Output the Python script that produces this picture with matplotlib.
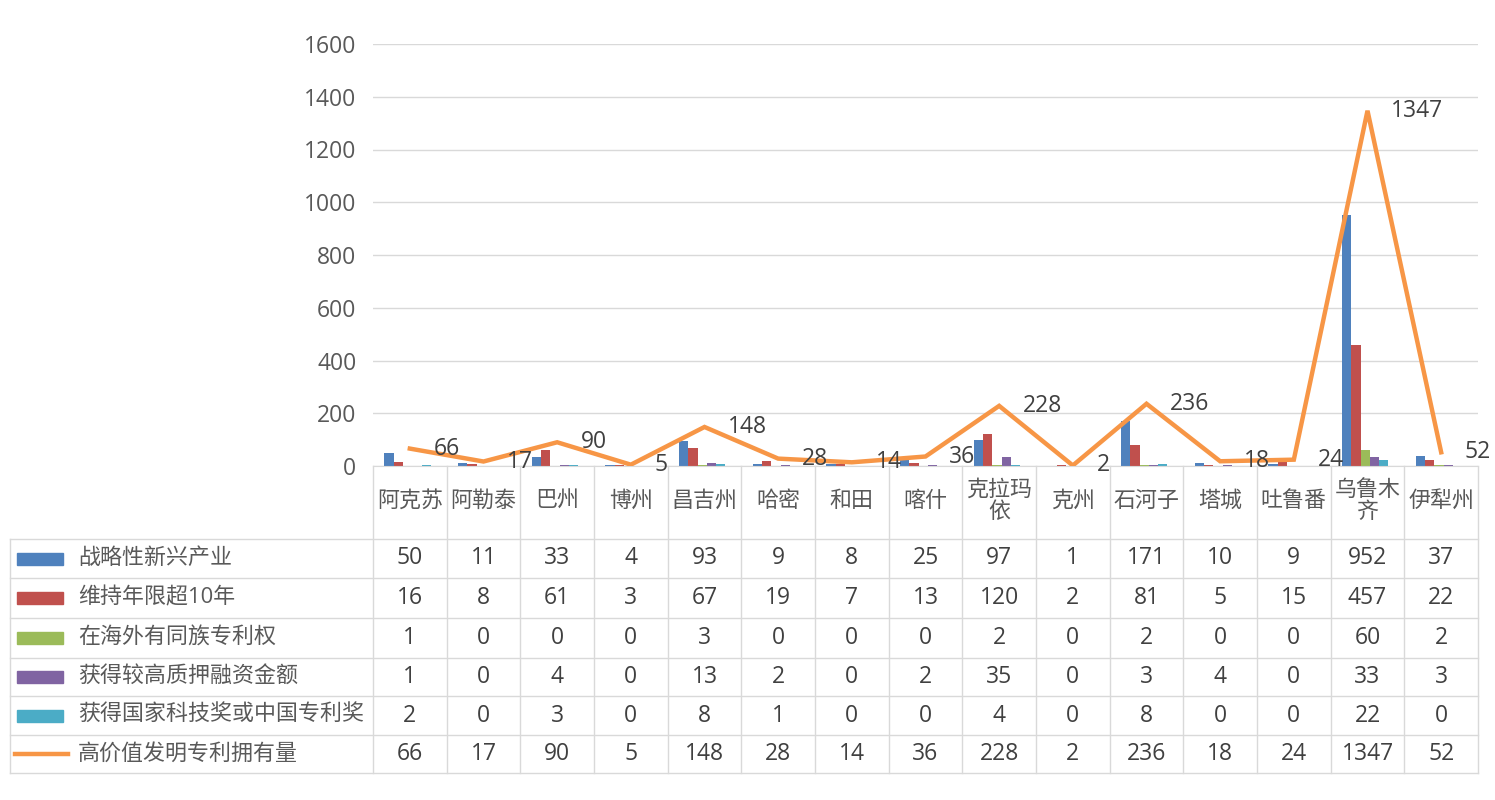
import matplotlib
matplotlib.use("Agg")
import matplotlib.pyplot as plt
from matplotlib.transforms import blended_transform_factory
from matplotlib.patches import Rectangle
from matplotlib.lines import Line2D

plt.rcParams['font.family'] = ['Open Sans', 'Noto Sans CJK SC', 'DejaVu Sans']

categories = ["阿克苏", "阿勒泰", "巴州", "博州", "昌吉州", "哈密", "和田", "喀什",
              "克拉玛\n依", "克州", "石河子", "塔城", "吐鲁番", "乌鲁木\n齐", "伊犁州"]

strategic = [50, 11, 33, 4, 93, 9, 8, 25, 97, 1, 171, 10, 9, 952, 37]
maintain10 = [16, 8, 61, 3, 67, 19, 7, 13, 120, 2, 81, 5, 15, 457, 22]
overseas = [1, 0, 0, 0, 3, 0, 0, 0, 2, 0, 2, 0, 0, 60, 2]
pledge = [1, 0, 4, 0, 13, 2, 0, 2, 35, 0, 3, 4, 0, 33, 3]
award = [2, 0, 3, 0, 8, 1, 0, 0, 4, 0, 8, 0, 0, 22, 0]
high_value = [66, 17, 90, 5, 148, 28, 14, 36, 228, 2, 236, 18, 24, 1347, 52]

bar_series = [
    ("战略性新兴产业", strategic, "#4F81BD"),
    ("维持年限超10年", maintain10, "#C0504D"),
    ("在海外有同族专利权", overseas, "#9BBB59"),
    ("获得较高质押融资金额", pledge, "#8064A2"),
    ("获得国家科技奖或中国专利奖", award, "#4BACC6"),
]
line_name = "高价值发明专利拥有量"
line_color = "#F79646"

FS = 16.5     # numbers
FS_CJK = 15.8  # Chinese labels
W, H = 1495, 800
fig = plt.figure(figsize=(W / 100, H / 100), dpi=100)
fig.patch.set_facecolor("white")

ax_left, ax_right, ax_top, ax_bottom = 373, 1478, 44, 466
ax = fig.add_axes([ax_left / W, 1 - ax_bottom / H, (ax_right - ax_left) / W, (ax_bottom - ax_top) / H])

n = len(categories)
xs = list(range(n))
bw = 0.126
for j, (name, vals, col) in enumerate(bar_series):
    ax.bar([x + (j - 2) * bw - 0.03 for x in xs], vals, width=bw, color=col, zorder=2)

ax.plot(xs, high_value, color=line_color, lw=3.2, zorder=3, solid_joinstyle='miter')
for x, v in zip(xs, high_value):
    ax.annotate(str(v), (x, v), xytext=(17, 0), textcoords='offset points',
                ha='left', va='center', fontsize=FS, color='#404040', zorder=4)

ax.set_xlim(-0.5, n - 0.5)
ax.set_ylim(0, 1600)
ax.set_yticks(range(0, 1601, 200))
ax.tick_params(axis='y', length=0, pad=12, labelsize=FS, labelcolor='#595959')
ax.set_xticks([])
ax.grid(axis='y', color='#D9D9D9', lw=1, zorder=0)
for s in ['left', 'right', 'top']:
    ax.spines[s].set_visible(False)
ax.spines['bottom'].set_color('#D9D9D9')
ax.set_axisbelow(True)

# Data table
tr = blended_transform_factory(ax.transData, fig.transFigure)
def fy(p):
    return 1 - p / H
def fx(p):
    return p / W

grid_c = '#D9D9D9'
header_top, header_bot = 466, 539
row_lines = [539, 578, 618, 658, 696, 735, 773]
legend_left = 10

for i in range(n + 1):
    fig.add_artist(Line2D([i - 0.5, i - 0.5], [fy(header_top), fy(row_lines[-1])],
                          transform=tr, color=grid_c, lw=1))
fig.add_artist(Line2D([fx(legend_left), fx(legend_left)], [fy(row_lines[0]), fy(row_lines[-1])],
                      transform=fig.transFigure, color=grid_c, lw=1))
for yl in row_lines:
    fig.add_artist(Line2D([fx(legend_left), fx(ax_right)], [fy(yl), fy(yl)],
                          transform=fig.transFigure, color=grid_c, lw=1))

for i, c in enumerate(categories):
    fig.text(i, fy((header_top + header_bot) / 2 - 1), c, transform=tr, ha='center', va='center',
             fontsize=FS_CJK, color='#595959', linespacing=1.05)

all_rows = [(name, vals, col, 'bar') for name, vals, col in bar_series] + \
           [(line_name, high_value, line_color, 'line')]
for r, (name, vals, col, kind) in enumerate(all_rows):
    yc = (row_lines[r] + row_lines[r + 1]) / 2
    if kind == 'bar':
        fig.add_artist(Rectangle((fx(17), fy(yc + 6)), fx(63) - fx(17), 12 / H,
                                 transform=fig.transFigure, color=col))
    else:
        fig.add_artist(Line2D([fx(15), fx(68)], [fy(yc), fy(yc)], transform=fig.transFigure,
                              color=col, lw=3.2))
    fig.text(fx(78), fy(yc), name, ha='left', va='center', fontsize=FS_CJK, color='#595959')
    for i, v in enumerate(vals):
        fig.text(i, fy(yc), str(v), transform=tr, ha='center', va='center',
                 fontsize=FS, color='#404040')

fig.savefig("out.png", dpi=100, facecolor='white')
